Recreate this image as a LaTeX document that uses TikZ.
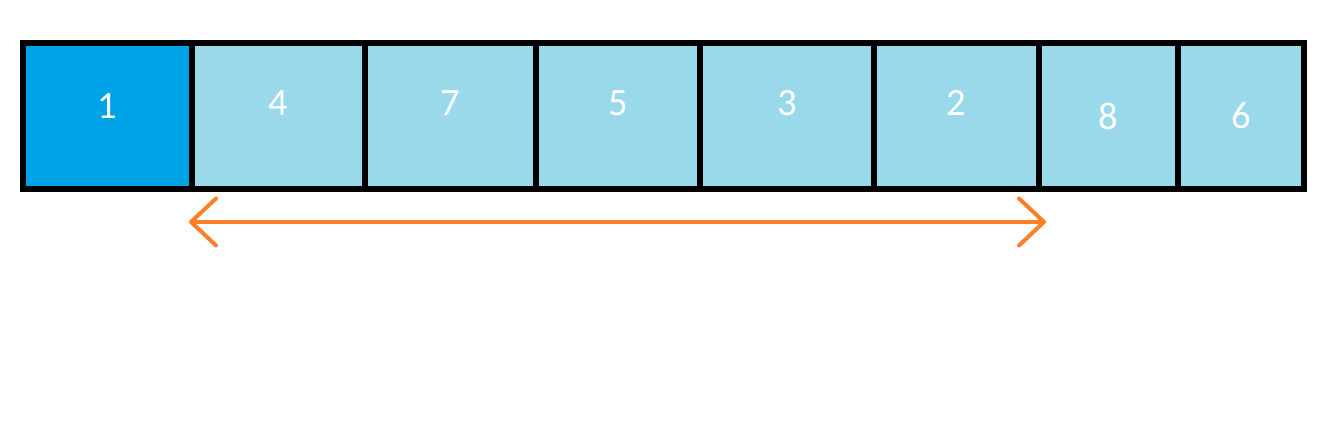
\documentclass[tikz,border=0pt]{standalone}
\usepackage{fontspec}
\setmainfont{Carlito}
\usetikzlibrary{arrows.meta,positioning}
\definecolor{azulfuerte}{HTML}{00A2E8}
\definecolor{azulclaro}{HTML}{99D9EA}
\definecolor{naranja}{HTML}{FF7F27}

\begin{document}
\begin{tikzpicture}[x=0.02cm, y=-0.02cm, font=\fontsize{22}{24}\selectfont,
      celda/.style={draw=black, line width=0.12cm, inner sep=0pt, anchor=north west,
                    minimum height=2.92cm},
      flecha/.style={draw=naranja, line width=0.08cm, line cap=round,
                     {Straight Barb[length=0.5cm, width=0.94cm, round]}-{Straight Barb[length=0.5cm, width=0.94cm, round]}}]
    \useasboundingbox (0,0) rectangle (1327,424);
    % celdas del arreglo: borde izq / borde der / valor / relleno / desplazamiento del texto
    \foreach \xa/\xb/\lbl/\col/\dy in {20/189/1/azulfuerte/10, 189/362/4/azulclaro/13,
        362/533/7/azulclaro/13, 533/697/5/azulclaro/13, 697/871/3/azulclaro/13,
        871/1036/2/azulclaro/13, 1036/1175/8/azulclaro/0, 1175/1301/6/azulclaro/0}
      \node[celda, fill=\col, minimum width={(\xb-\xa)*0.02cm},
            label={[text=white, yshift=\dy*0.02cm]center:\lbl}] (c\lbl) at (\xa,40) {};
    \draw[flecha] ([yshift=-0.6cm]c4.south west) -- ([xshift=0.08cm, yshift=-0.6cm]c2.south east);
  \end{tikzpicture}
\end{document}
